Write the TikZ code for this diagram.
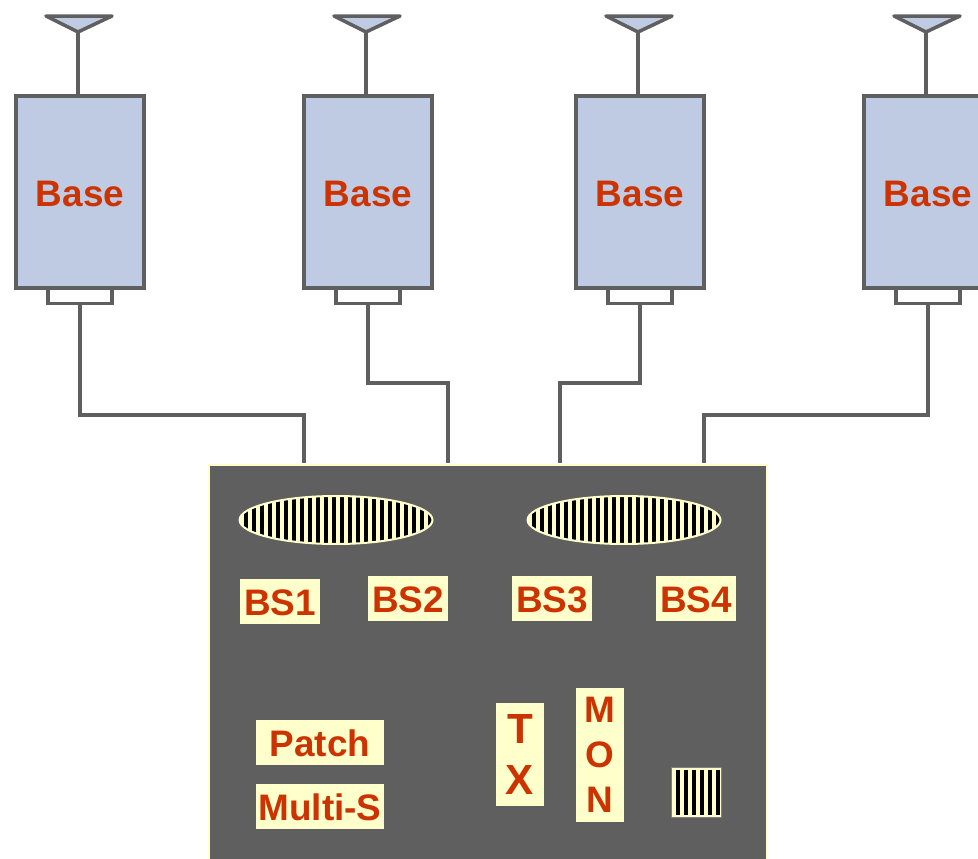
\documentclass[tikz,border=0pt]{standalone}
\usepackage{fontspec}
\setmainfont{Liberation Sans}
\usetikzlibrary{shapes.geometric}
\definecolor{unitblue}{HTML}{BFCBE3}
\definecolor{wiregray}{HTML}{5F5F5F}
\definecolor{labelcream}{HTML}{FFFFCC}
\definecolor{labelred}{HTML}{CC3300}
\tikzset{
  wire/.style={draw=wiregray, line width=0.08cm},
  basebox/.style={wire, fill=unitblue, minimum width=2.56cm, minimum height=3.84cm, inner sep=0pt,
    text=labelred, text height=17pt, text depth=0pt, font=\fontsize{21}{21}\selectfont\bfseries},
  portbox/.style={wire, line width=0.065cm, fill=white, minimum width=1.28cm, minimum height=0.3cm, inner sep=0pt},
  tag/.style={fill=labelcream, inner sep=0pt, text=labelred, align=center, font=\fontsize{21}{21}\selectfont\bfseries},
  wordtag/.style={tag, text height=16pt, text depth=0pt},
  slot/.style={ellipse, draw=labelcream, line width=0.04cm, fill=labelcream, minimum width=3.86cm, minimum height=0.96cm, inner sep=0pt,
    path picture={
      \foreach \s in {-13,...,12}
        \draw[black, line width=0.08cm] ([xshift=\s*0.16cm-0.04cm]path picture bounding box.north) -- ([xshift=\s*0.16cm-0.04cm]path picture bounding box.south);
    }},
}
\begin{document}
\begin{tikzpicture}[x=0.02cm, y=-0.02cm]
  \clip (0,0) rectangle (978,859);

  % Stations
  \foreach \i/\x in {1/80,2/368,3/640,4/928} {
    \node[portbox] (port\i) at (\x,296) {};
    \node[basebox] (base\i) at (\x,192) {Base};
    % Antenna
    \coordinate (tip\i) at (\x-2,32);
    \draw[wire, line width=0.07cm, fill=unitblue, line join=round, line cap=round] (\x-34,16) -- (\x+32,16) -- (tip\i) -- cycle;
    \draw[wire] (tip\i) -- (base\i.north -| tip\i);
  }

  % Rack
  \node[draw=labelcream, line width=0.04cm, fill=wiregray, minimum width=11.16cm, minimum height=8.4cm, inner sep=0pt] (rack) at (488,675) {};
  \coordinate (in1) at (304,463);
  \coordinate (in2) at (448,463);
  \coordinate (in3) at (560,463);
  \coordinate (in4) at (704,463);

  % Cables
  \draw[wire] (port1.south) -- ++(0,110) -| (in1);
  \draw[wire] (port2.south) -- ++(0,78) -| (in2);
  \draw[wire] (port3.south) -- ++(0,78) -| (in3);
  \draw[wire] (port4.south) -- ++(0,110) -| (in4);

  % Slots
  \node[slot] (slot1) at (336,520) {};
  \node[slot] (slot2) at (624,520) {};

  % Labels
  \node[wordtag, minimum width=1.6cm, minimum height=0.9cm] (bs1) at (280,601.5) {BS1};
  \node[wordtag, minimum width=1.6cm, minimum height=0.9cm] (bs2) at (408,598.5) {BS2};
  \node[wordtag, minimum width=1.6cm, minimum height=0.9cm] (bs3) at (552,598.5) {BS3};
  \node[wordtag, minimum width=1.6cm, minimum height=0.9cm] (bs4) at (696,598.5) {BS4};
  \node[wordtag, minimum width=2.56cm, minimum height=0.9cm] (patch) at (320,742.5) {Patch};
  \node[wordtag, minimum width=2.56cm, minimum height=0.9cm] (multi) at (320,806.5) {Multi-S};
  \node[tag, minimum width=0.96cm, minimum height=2.06cm, font=\fontsize{24}{29.5}\selectfont\bfseries] (tx) at (520,754.5) {T\\X};
  \node[tag, minimum width=0.96cm, minimum height=2.68cm, font=\fontsize{21}{25.5}\selectfont\bfseries] (mon) at (600,755) {M\\O\\N};

  % Small grille
  \node[draw=gray, line width=0.02cm, fill=labelcream, minimum size=1cm, inner sep=0pt, path picture={
      \foreach \s in {-2,...,3}
        \draw[black, line width=0.07cm] ([xshift=\s*0.16cm-0.04cm, yshift=-0.05cm]path picture bounding box.north) -- ([xshift=\s*0.16cm-0.04cm, yshift=0.05cm]path picture bounding box.south);
    }] (grille) at (696,792) {};
\end{tikzpicture}
\end{document}
